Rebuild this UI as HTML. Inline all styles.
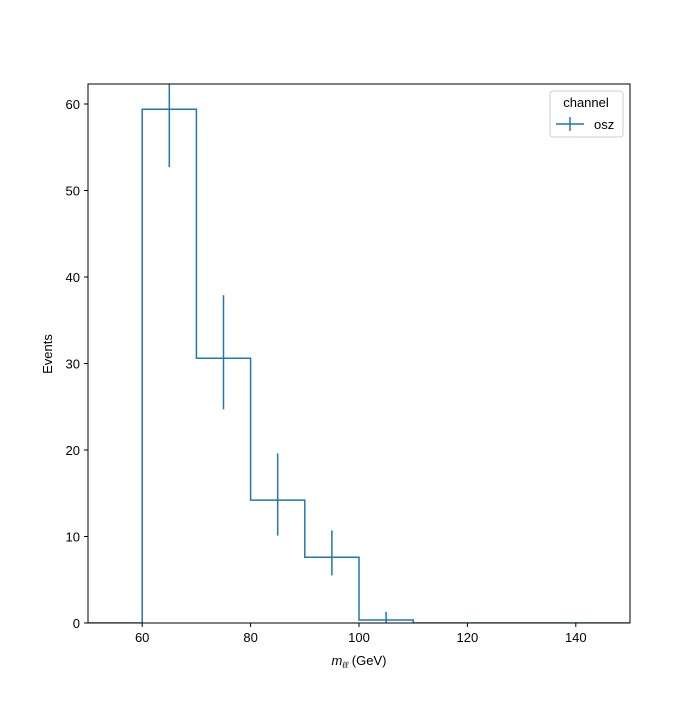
<!DOCTYPE html>
<html><head><meta charset="utf-8"><style>
body{margin:0;background:#fff}
svg{font-family:"Liberation Sans","DejaVu Sans",sans-serif}
</style></head><body>
<svg id="c" width="700" height="700" viewBox="0 0 700 700">
<rect width="700" height="700" fill="#fff"/>
<defs><clipPath id="clip"><rect x="88" y="84" width="542" height="539"/></clipPath></defs>
<g id="plot" clip-path="url(#clip)"></g>
<rect x="88" y="84" width="542" height="539" fill="none" stroke="#000" stroke-width="1"/>
<g id="axes"></g>
<text x="359" y="665" font-size="13" text-anchor="middle"><tspan font-style="italic">m</tspan><tspan font-style="italic" font-size="9" dy="3">ℓℓ</tspan><tspan dy="-3"> (GeV)</tspan></text>
<text transform="translate(52,354) rotate(-90)" font-size="13" text-anchor="middle">Events</text>
<g>
<rect x="550" y="91" width="73" height="46" rx="3" fill="#fff" stroke="#ccc"/>
<text x="586" y="107" font-size="13" text-anchor="middle">channel</text>
<line x1="556" y1="124" x2="584" y2="124" stroke="#1f77b4" stroke-width="1.5"/>
<line x1="570" y1="117" x2="570" y2="131" stroke="#1f77b4" stroke-width="1.5"/>
<text x="594" y="129" font-size="13">osz</text>
</g>
</svg>
<script>
const binEdges=[50,60,70,80,90,100,110,120,130,140,150];
const counts=[0,59.4,30.6,14.2,7.6,0.35,0,0,0,0];
const errCenters=[65,75,85,95,105];
const errLow=[52.7,24.7,10.1,5.5,0];
const errHigh=[66,37.9,19.6,10.7,1.3];
const xTicks=[60,80,100,120,140];
const yTicks=[0,10,20,30,40,50,60];
const X=v=>88+(v-50)*5.42;
const Y=v=>623-v*8.65;
const NS="http://www.w3.org/2000/svg";
const plot=document.getElementById('plot'),axes=document.getElementById('axes');
function mk(tag,attrs,parent){const e=document.createElementNS(NS,tag);for(const k in attrs)e.setAttribute(k,attrs[k]);parent.appendChild(e);return e;}
let d="M"+X(binEdges[0])+","+Y(0);
for(let i=0;i<counts.length;i++){d+=" L"+X(binEdges[i])+","+Y(counts[i])+" L"+X(binEdges[i+1])+","+Y(counts[i]);}
const p=mk('path',{d:d,fill:'none',stroke:'#1f77b4','stroke-width':1.5},plot);


for(let i=0;i<errCenters.length;i++){
 const l=mk('line',{x1:X(errCenters[i]),x2:X(errCenters[i]),y1:Y(errLow[i]),y2:Y(errHigh[i]),stroke:'#1f77b4','stroke-width':1.5},plot);
 
 
}
xTicks.forEach(t=>{
 mk('line',{x1:X(t),x2:X(t),y1:623,y2:627,stroke:'#000'},axes);
 const tx=mk('text',{x:X(t),y:642,'font-size':13,'text-anchor':'middle'},axes);
 tx.textContent=t;
 
 
});
yTicks.forEach(t=>{
 mk('line',{x1:84,x2:88,y1:Y(t),y2:Y(t),stroke:'#000'},axes);
 const tx=mk('text',{x:80,y:Y(t)+5,'font-size':13,'text-anchor':'end'},axes);
 tx.textContent=t;
 
 
});
</script>
</body></html>
